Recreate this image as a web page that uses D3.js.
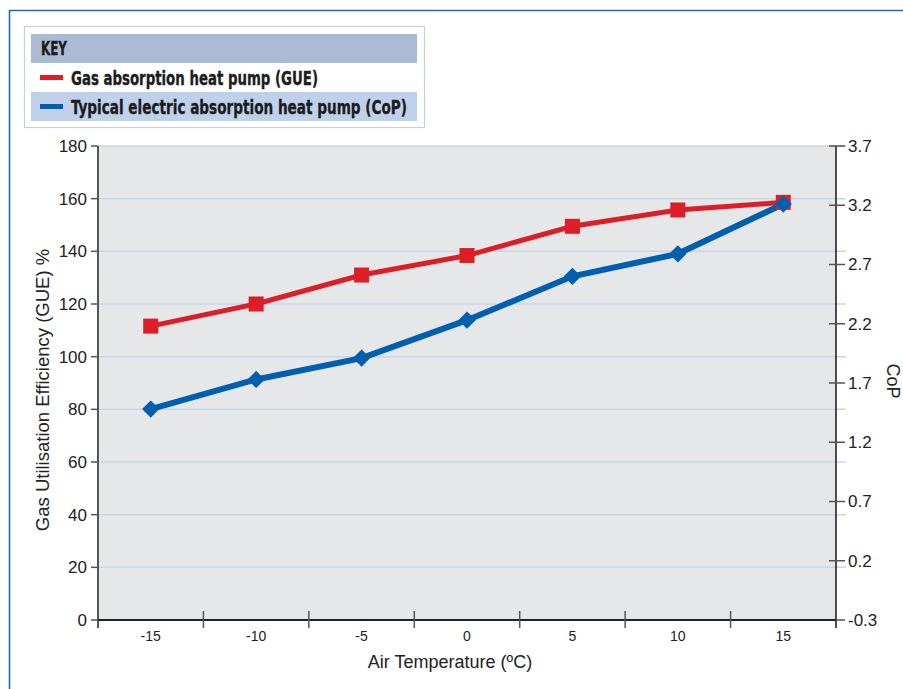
<!DOCTYPE html>
<html>
<head>
<meta charset="utf-8">
<script src="https://cdn.jsdelivr.net/npm/d3@7"></script>
<style>
  html, body { margin: 0; padding: 0; background: #fff; }
  svg { display: block; }
  .tick-lbl { font-family: "Liberation Sans", Arial, sans-serif; fill: #222; }
  .key-txt { font-family: "Liberation Sans Narrow", "DejaVu Sans Condensed", "DejaVu Sans", sans-serif; font-weight: bold; fill: #1c1c1c; stroke: #1c1c1c; stroke-width: 0.35px; }
</style>
</head>
<body>
<div id="chart"></div>
<script>
// ---- data ----
const temps = ['-15', '-10', '-5', '0', '5', '10', '15'];
const gue = [111.6, 120.0, 131.0, 138.4, 149.5, 155.7, 158.6];   // left axis, %
const cop = [1.48, 1.73, 1.91, 2.23, 2.60, 2.79, 3.21];          // right axis
const leftTicks = [0, 20, 40, 60, 80, 100, 120, 140, 160, 180];
const rightTicks = ['-0.3', '0.2', '0.7', '1.2', '1.7', '2.2', '2.7', '3.2', '3.7'];
const keyLabels = ['Gas absorption heat pump (GUE)', 'Typical electric absorption heat pump (CoP)'];

const W = 903, H = 689;
const RED = '#dc1f27', BLUE = '#005fae';
const margin = { top: 146, right: 67, bottom: 69, left: 98 };
const width = W - margin.left - margin.right;    // 738
const height = H - margin.top - margin.bottom;   // 474

const svg = d3.select('#chart').append('svg')
  .attr('width', W).attr('height', H);

// outer blue frame (top + left edges)
svg.append('path')
  .attr('d', `M9.5,${H} V10.5 H${W}`)
  .attr('fill', 'none').attr('stroke', '#1a6cc6').attr('stroke-width', 1.6);

// ---- key box ----
// condensed font isn't guaranteed, so squeeze text to the reference widths
const key = svg.append('g');
key.append('rect').attr('x', 24.5).attr('y', 26.5).attr('width', 400).attr('height', 101)
  .attr('fill', '#fff').attr('stroke', '#c6cfdc').attr('stroke-width', 1.2);
key.append('rect').attr('x', 31).attr('y', 34).attr('width', 386).attr('height', 29).attr('fill', '#abbbd3');
key.append('rect').attr('x', 31).attr('y', 92).attr('width', 386).attr('height', 29).attr('fill', '#bfd1ea');
key.append('text').attr('class', 'key-txt').attr('x', 41).attr('y', 55)
  .attr('font-size', '20px').attr('textLength', 26).attr('lengthAdjust', 'spacingAndGlyphs')
  .text('KEY');
const keyWidths = [247, 336];
[RED, BLUE].forEach((c, i) => {
  const cy = i === 0 ? 77.5 : 106.5;
  key.append('line').attr('x1', 40).attr('x2', 63).attr('y1', cy).attr('y2', cy)
    .attr('stroke', c).attr('stroke-width', 5);
  key.append('text').attr('class', 'key-txt').attr('x', 71).attr('y', cy + 7)
    .attr('font-size', '20px')
    .attr('textLength', keyWidths[i]).attr('lengthAdjust', 'spacingAndGlyphs')
    .text(keyLabels[i]);
});

// ---- scales ----
const x = d3.scaleBand().domain(temps).range([0, width]).padding(0);
const yL = d3.scaleLinear().domain([0, 180]).range([height, 0]);
const yR = d3.scaleLinear().domain([-0.3, 3.7]).range([height, 0]);

const g = svg.append('g').attr('transform', `translate(${margin.left},${margin.top})`);

// plot background
g.append('rect').attr('width', width).attr('height', height).attr('fill', '#e6e7e9');

// gridlines at left-axis values, running a bit past the right axis
g.selectAll('.grid').data(leftTicks.filter(d => d > 0)).join('line')
  .attr('x1', 0).attr('x2', width + 10)
  .attr('y1', d => yL(d)).attr('y2', d => yL(d))
  .attr('stroke', '#c8d6ea').attr('stroke-width', 1.5);

// left axis
g.append('line').attr('x1', 0).attr('x2', 0).attr('y1', 0).attr('y2', height + 8)
  .attr('stroke', '#555').attr('stroke-width', 2);
leftTicks.forEach(v => {
  g.append('line').attr('x1', -7).attr('x2', 0).attr('y1', yL(v)).attr('y2', yL(v))
    .attr('stroke', '#555').attr('stroke-width', 1.5);
  g.append('text').attr('class', 'tick-lbl').attr('x', -11).attr('y', yL(v))
    .attr('dy', '0.35em').attr('text-anchor', 'end').attr('font-size', '17px').text(v);
});

// right axis
g.append('line').attr('x1', width).attr('x2', width).attr('y1', 0).attr('y2', height + 8)
  .attr('stroke', '#222').attr('stroke-width', 1.6);
rightTicks.forEach(t => {
  const v = +t;
  g.append('line').attr('x1', width - 7).attr('x2', width + 9).attr('y1', yR(v)).attr('y2', yR(v))
    .attr('stroke', '#555').attr('stroke-width', 1.5);
  g.append('text').attr('class', 'tick-lbl').attr('x', width + 12).attr('y', yR(v))
    .attr('dy', '0.35em').attr('font-size', '17px').text(t);
});

// x axis: ticks on category boundaries, labels at centres
g.append('line').attr('x1', 0).attr('x2', width).attr('y1', height).attr('y2', height)
  .attr('stroke', '#222').attr('stroke-width', 1.8);
temps.slice(1).forEach(t => {
  const bx = x(t);
  g.append('line').attr('x1', bx).attr('x2', bx).attr('y1', height - 9).attr('y2', height + 8)
    .attr('stroke', '#555').attr('stroke-width', 1.5);
});
temps.forEach(t => {
  g.append('text').attr('class', 'tick-lbl').attr('x', x(t) + x.bandwidth() / 2).attr('y', height + 21)
    .attr('text-anchor', 'middle').attr('font-size', '14px').text(t);
});

// axis titles
g.append('text').attr('class', 'tick-lbl').attr('x', width / 2 - 17).attr('y', height + 48)
  .attr('text-anchor', 'middle').attr('font-size', '18px').text('Air Temperature (ºC)');
svg.append('text').attr('class', 'tick-lbl')
  .attr('transform', `translate(49,390) rotate(-90)`)
  .attr('text-anchor', 'middle').attr('font-size', '18.5px')
  .text('Gas Utilisation Efficiency (GUE) %');
svg.append('text').attr('class', 'tick-lbl')
  .attr('transform', `translate(887,381) rotate(90)`)
  .attr('text-anchor', 'middle').attr('font-size', '18px').text('CoP');

// ---- series ----
const cx = t => x(t) + x.bandwidth() / 2;

const redLine = d3.line().x((d, i) => cx(temps[i])).y(d => yL(d));
g.append('path').datum(gue).attr('d', redLine)
  .attr('fill', 'none').attr('stroke', RED).attr('stroke-width', 5);

const blueLine = d3.line().x((d, i) => cx(temps[i])).y(d => yR(d));
g.append('path').datum(cop).attr('d', blueLine)
  .attr('fill', 'none').attr('stroke', BLUE).attr('stroke-width', 6);

g.selectAll('.sq').data(gue).join('rect')
  .attr('x', (d, i) => cx(temps[i]) - 7.5).attr('y', d => yL(d) - 7.5)
  .attr('width', 15).attr('height', 15).attr('fill', RED);

const diamond = d3.symbol().type(d3.symbolSquare).size(150);
g.selectAll('.dm').data(cop).join('path')
  .attr('d', diamond)
  .attr('transform', (d, i) => `translate(${cx(temps[i])},${yR(d)}) rotate(45)`)
  .attr('fill', BLUE);
</script>
</body>
</html>
